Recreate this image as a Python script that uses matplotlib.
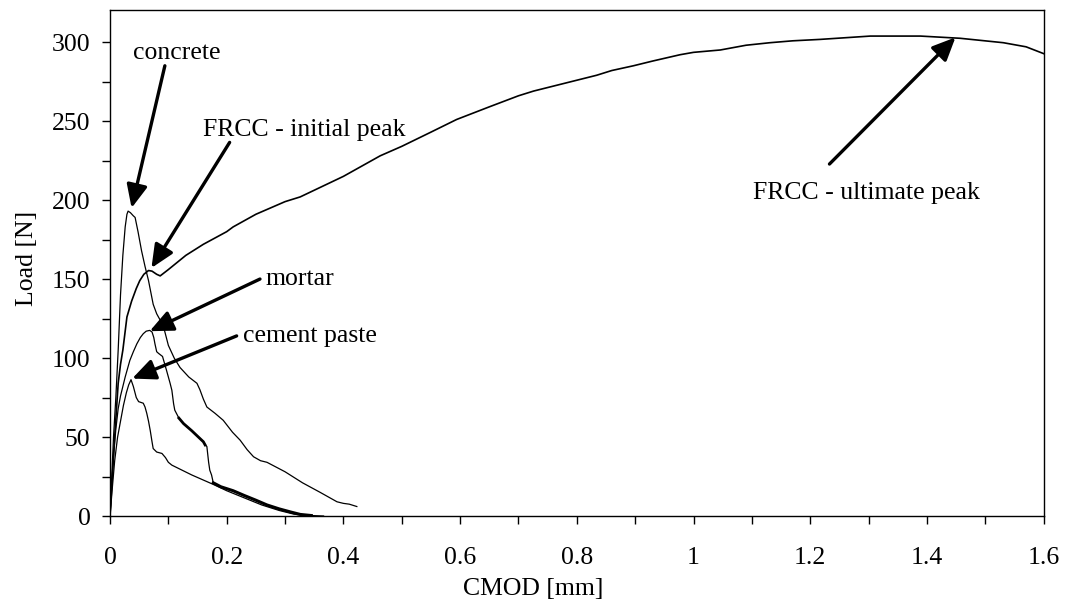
import numpy as np
import matplotlib
matplotlib.use("Agg")
import matplotlib.pyplot as plt
from matplotlib.ticker import MultipleLocator

# ---- data ----
concrete_x = [0, 0.003, 0.006, 0.010, 0.014, 0.018, 0.022, 0.026, 0.029, 0.031, 0.035, 0.040, 0.043,
              0.048, 0.054, 0.060, 0.066, 0.074, 0.080, 0.086, 0.093, 0.100, 0.110, 0.120, 0.135,
              0.149, 0.154, 0.160, 0.166, 0.180, 0.194, 0.210, 0.223, 0.235, 0.246, 0.258, 0.269,
              0.300, 0.330, 0.360, 0.389, 0.400, 0.410, 0.423]
concrete_y = [0, 25, 50, 75, 105, 140, 165, 183, 191, 193, 192, 190, 189,
              180, 168, 158, 149, 134, 128, 124, 118, 108, 100, 94, 88,
              84, 80, 74, 69, 65, 60.6, 53, 48, 42, 37.5, 35, 34,
              28, 21, 15, 9, 8, 7.5, 6]

frcc_x = [0, 0.004, 0.008, 0.014, 0.018, 0.022, 0.029, 0.037, 0.045, 0.051, 0.058, 0.066,
          0.072, 0.080, 0.086, 0.10, 0.13, 0.16, 0.20, 0.211, 0.25, 0.30, 0.326, 0.40, 0.463,
          0.50, 0.55, 0.594, 0.65, 0.70, 0.726, 0.78, 0.834, 0.86, 0.897, 0.93, 0.977, 1.0,
          1.046, 1.09, 1.131, 1.17, 1.217, 1.303, 1.389, 1.457, 1.531, 1.57, 1.6]
frcc_y = [0, 25, 50, 84, 96, 105, 126, 136, 144, 149, 153, 155.4,
          155, 153, 152, 156, 165, 172, 180, 183, 191, 199, 202, 215, 228,
          234, 243, 251, 259, 266, 269, 274, 279, 282, 285, 288, 292, 293.5,
          295, 298, 299.6, 300.8, 301.7, 303.8, 303.8, 302.4, 299.6, 297, 292.7]

mortar_x = [0, 0.003, 0.006, 0.010, 0.014, 0.018, 0.022, 0.026, 0.034, 0.040, 0.046, 0.052,
            0.057, 0.062, 0.068, 0.072, 0.075, 0.077, 0.080, 0.083, 0.090, 0.097, 0.103, 0.106,
            0.109, 0.111, 0.118, 0.126, 0.140, 0.150, 0.160, 0.163, 0.166, 0.169, 0.171, 0.174,
            0.177, 0.190, 0.211, 0.230, 0.250, 0.269, 0.290, 0.310, 0.326, 0.345, 0.366]
mortar_y = [0, 20, 38, 55, 68, 76, 82, 88, 98.5, 104, 109, 113,
            115.4, 117, 117.5, 116.5, 113, 109, 104, 103, 101, 92, 84, 79.6,
            71, 67, 62, 58.5, 54, 50.5, 47, 45, 44, 34, 29, 26,
            21, 18.5, 16, 13, 10, 7, 4.5, 2.5, 1, 0.3, 0]

cement_x = [0, 0.004, 0.008, 0.013, 0.018, 0.023, 0.028, 0.032, 0.036, 0.040, 0.045, 0.049,
            0.057, 0.060, 0.063, 0.066, 0.069, 0.072, 0.074, 0.080, 0.089, 0.095, 0.100, 0.106,
            0.140, 0.177, 0.200, 0.230, 0.260, 0.290, 0.315, 0.340]
cement_y = [0, 18, 35, 50, 60, 70, 78, 83, 86.3, 82, 75, 72.4,
            71.4, 69, 65, 60, 54, 47, 42.7, 40.5, 39.6, 37, 34, 32.2,
            26, 20, 16, 11.5, 7, 3.5, 1.2, 0]

x_ticks = [0, 0.2, 0.4, 0.6, 0.8, 1.0, 1.2, 1.4, 1.6]
x_tick_labels = ["0", "0.2", "0.4", "0.6", "0.8", "1", "1.2", "1.4", "1.6"]
y_ticks = [0, 50, 100, 150, 200, 250, 300]

# annotations: (label, text position, arrow tail, arrow head)
annotations = [
    ("concrete",             (0.039, 289.3), (0.094, 285.0), (0.037, 195.0)),
    ("FRCC - initial peak",  (0.159, 240.7), (0.205, 236.5), (0.071, 157.0)),
    ("mortar",               (0.267, 146.0), (0.257, 150.0), (0.068, 117.0)),
    ("cement paste",         (0.228, 110.0), (0.217, 114.0), (0.038, 87.0)),
    ("FRCC - ultimate peak", (1.102, 200.9), (1.233, 222.8), (1.449, 303.0)),
]

plt.rcParams['font.family'] = ['Liberation Serif', 'DejaVu Serif']
FS = 18.5

fig = plt.figure(figsize=(10.66, 6.06), dpi=100)
ax = fig.add_axes([0.1032, 0.1485, 0.8758, 0.8342])

lw = 0.9
ax.plot(concrete_x, concrete_y, color='black', lw=lw)
ax.plot(frcc_x, frcc_y, color='black', lw=1.2)
ax.plot(mortar_x, mortar_y, color='black', lw=lw)
ax.plot(cement_x, cement_y, color='black', lw=lw)

# noisy (thick) portions of the mortar curve
mx = np.array(mortar_x); my = np.array(mortar_y)
m1 = (mx >= 0.118) & (mx <= 0.163)
m2 = (mx >= 0.177) & (mx <= 0.345)
ax.plot(mx[m1], my[m1], color='black', lw=2.0)
ax.plot(mx[m2], my[m2], color='black', lw=2.2)

for label, tpos, tail, head in annotations:
    ax.text(tpos[0], tpos[1], label, fontsize=FS, ha='left', va='baseline')
    ax.annotate('', xy=head, xytext=tail,
                arrowprops=dict(arrowstyle='-|>,head_length=1.0,head_width=0.45',
                                mutation_scale=14, lw=2.4, color='black',
                                shrinkA=0, shrinkB=0))

ax.set_xlim(0, 1.6)
ax.set_ylim(0, 320)
ax.set_xticks(x_ticks)
ax.set_xticklabels(x_tick_labels)
ax.set_yticks(y_ticks)
ax.xaxis.set_minor_locator(MultipleLocator(0.1))
ax.yaxis.set_minor_locator(MultipleLocator(25))
ax.tick_params(which='both', direction='out', length=6, width=1.0, labelsize=FS)
ax.tick_params(axis='x', which='both', pad=16)
ax.tick_params(axis='y', which='both', pad=8)
for s in ax.spines.values():
    s.set_linewidth(1.0)

ax.set_xlabel("CMOD [mm]", fontsize=FS)
ax.set_ylabel("Load [N]", fontsize=FS)
ax.xaxis.set_label_coords(0.453, -0.122)
ax.yaxis.set_label_coords(-0.077, 0.51)

fig.savefig("out.png", dpi=100)
